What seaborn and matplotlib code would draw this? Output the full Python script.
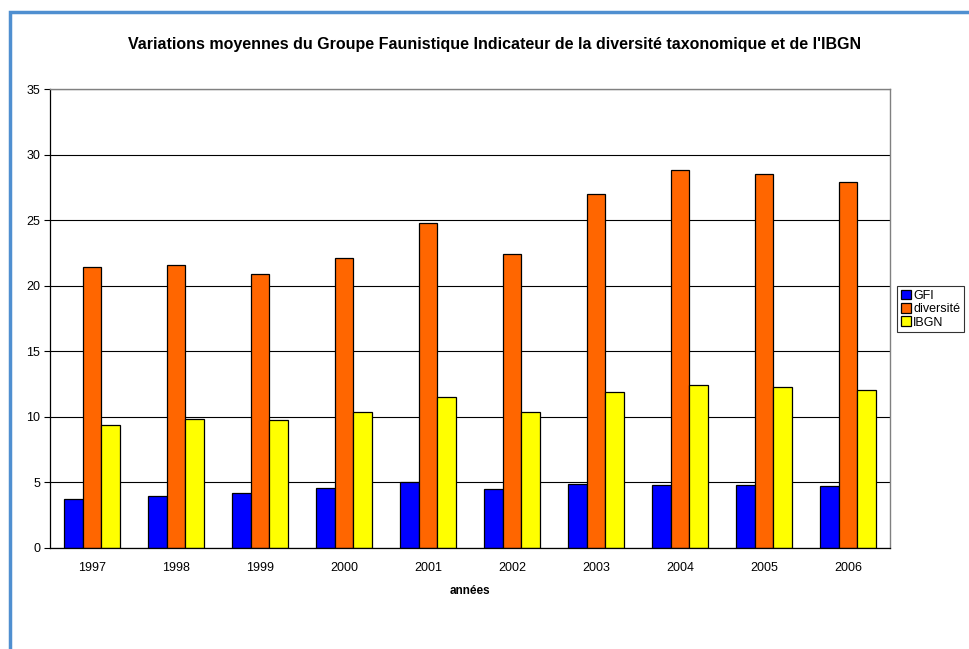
import pandas as pd
import matplotlib.pyplot as plt
import seaborn as sns
from matplotlib.patches import Rectangle

# data
years = ['1997', '1998', '1999', '2000', '2001', '2002', '2003', '2004', '2005', '2006']
gfi = [3.7, 4.0, 4.2, 4.6, 5.0, 4.5, 4.9, 4.8, 4.8, 4.7]
diversite = [21.4, 21.6, 20.9, 22.1, 24.8, 22.4, 27.0, 28.85, 28.55, 27.9]
ibgn = [9.35, 9.8, 9.75, 10.4, 11.55, 10.4, 11.9, 12.4, 12.3, 12.05]
series = ['GFI', 'diversité', 'IBGN']
colors = ['#0000FF', '#FF6600', '#FFFF00']

df = pd.DataFrame({'année': years * 3,
                   'série': [series[0]] * 10 + [series[1]] * 10 + [series[2]] * 10,
                   'valeur': gfi + diversite + ibgn})

sns.set_style('white')
plt.rcParams['font.family'] = ['Liberation Sans', 'DejaVu Sans']
plt.rcParams['text.color'] = 'black'
plt.rcParams['xtick.color'] = 'black'
plt.rcParams['ytick.color'] = 'black'
plt.rcParams['axes.labelcolor'] = 'black'

fig = plt.figure(figsize=(9.7, 6.49), dpi=100)
ax = fig.add_axes([50 / 970, 101 / 649, 840 / 970, 459 / 649])

sns.barplot(data=df, x='année', y='valeur', hue='série', palette=colors,
            width=0.66, edgecolor='black', linewidth=0.9, saturation=1, ax=ax)

ax.set_ylim(0, 35)
ax.set_xlim(-0.5, 9.5)
ax.set_yticks(range(0, 36, 5))
ax.yaxis.grid(True, color='black', linewidth=0.8)
ax.set_axisbelow(True)
ax.tick_params(axis='both', labelsize=9, length=0)
ax.tick_params(axis='x', pad=10)
ax.set_xticks([i - 0.5 for i in range(11)], minor=True)
ax.tick_params(axis='x', which='minor', length=5, color='black', width=0.8)
ax.tick_params(axis='y', length=4, left=True, color='black', width=0.8, pad=3)
ax.set_xlabel('années', fontsize=8.5, fontweight='bold', labelpad=8)
ax.set_ylabel('')
for side in ['left', 'bottom']:
    ax.spines[side].set_color('black')
    ax.spines[side].set_linewidth(0.9)
for side in ['top', 'right']:
    ax.spines[side].set_visible(True)
    ax.spines[side].set_color('#808080')
    ax.spines[side].set_linewidth(1)

fig.text(495 / 970, 1 - 45 / 649, "Variations moyennes du Groupe Faunistique Indicateur de la diversité taxonomique et de l'IBGN",
         ha='center', va='center', fontsize=11.5, fontweight='bold')

ax.legend_.remove()
handles, labels = ax.get_legend_handles_labels()
leg = fig.legend(handles, labels, loc='upper left', bbox_to_anchor=(897 / 970, 1 - 286 / 649),
                 fontsize=9, frameon=True, fancybox=False, edgecolor='black',
                 handlelength=0.8, handleheight=0.8, handletextpad=0.2,
                 borderpad=0.3, labelspacing=0.1, borderaxespad=0)
leg.get_frame().set_linewidth(0.8)

# blue frame around the chart
fig.patches.append(Rectangle((10 / 970, -0.1), 1.1, 1 - 12 / 649 + 0.1, transform=fig.transFigure,
                             fill=False, edgecolor='#4F8FD0', linewidth=2.5))

fig.savefig('out.png', dpi=100)
